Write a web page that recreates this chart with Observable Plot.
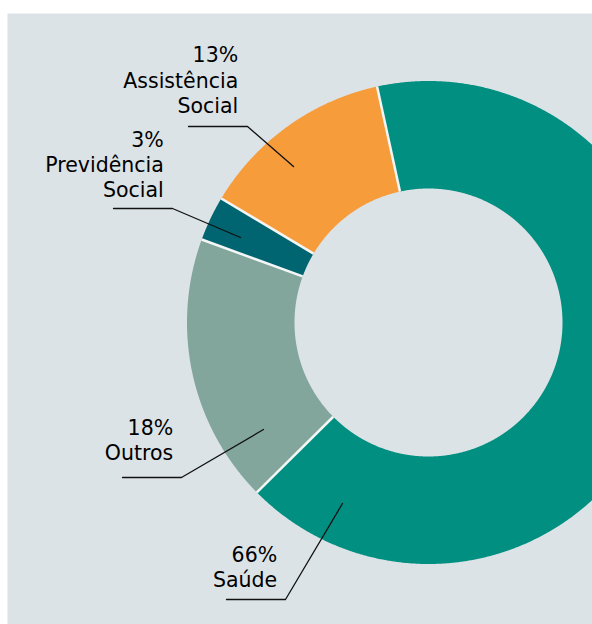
<!DOCTYPE html>
<html><head><meta charset="utf-8">
<script src="https://cdn.jsdelivr.net/npm/d3@7"></script>
<script src="https://cdn.jsdelivr.net/npm/@observablehq/plot@0.6"></script>
<style>html,body{margin:0;padding:0;background:#fff;overflow:hidden;} svg{display:block}</style>
</head><body><div id="chart"></div>
<script>
// ---- data ----
const categories = ["Saúde", "Outros", "Previdência Social", "Assistência Social"];
const shares = [66, 18, 3, 13];
const labelTexts = ["66%\nSaúde", "18%\nOutros", "3%\nPrevidência\nSocial", "13%\nAssistência\nSocial"];

// ---- styles / layout ----
const colors = ["#008f80", "#82a59c", "#006570", "#f79c3b"];
const startDeg = -12.3;
const outerR = 241.5, innerR = 134;
// annotation layout, in pixels relative to the donut centre (y grows downward)
const leaderTips   = [[-86, 181], [-165, 107], [-188, -85], [-135, -156]];
const leaderElbows = [[-143, 277], [-247, 155], [-256, -114], [-181, -196]];
const leaderTail = 59;
const labelAnchors = [[-151.3, 264.7], [-255.3, 137.3], [-264.7, -125.3], [-190.3, -210]];

const a0 = startDeg * Math.PI / 180;
const arcs = d3.pie().sort(null).startAngle(a0).endAngle(a0 + 2 * Math.PI)(shares);

const px = (r, a) => r * Math.sin(a);
const py = (r, a) => -r * Math.cos(a);

const sliceMarks = arcs.map((d, i) => {
  const n = Math.max(8, Math.ceil((d.endAngle - d.startAngle) / 0.005));
  const pts = [];
  for (let k = 0; k <= n; k++) {
    const a = d.startAngle + (d.endAngle - d.startAngle) * k / n;
    pts.push({x: px(outerR, a), y: py(outerR, a)});
  }
  for (let k = n; k >= 0; k--) {
    const a = d.startAngle + (d.endAngle - d.startAngle) * k / n;
    pts.push({x: px(innerR, a), y: py(innerR, a)});
  }
  return Plot.line(pts, {x: "x", y: "y", fill: colors[i], stroke: "none", curve: "linear-closed", clip: true});
});

const boundaries = arcs.map(d => d.startAngle);

const leaders = [];
categories.forEach((c, i) => {
  leaders.push({k: c, x: leaderTips[i][0], y: leaderTips[i][1]});
  leaders.push({k: c, x: leaderElbows[i][0], y: leaderElbows[i][1]});
  leaders.push({k: c, x: leaderElbows[i][0] - leaderTail, y: leaderElbows[i][1]});
});

const labels = categories.map((c, i) => ({k: c, text: labelTexts[i], x: labelAnchors[i][0], y: labelAnchors[i][1]}));

const chart = Plot.plot({
  width: 592,
  height: 624,
  margin: 0,
  x: {domain: [-428, 164], range: [0, 592], axis: null},
  y: {domain: [-322, 302], range: [0, 624], axis: null},
  style: {background: "#fff", fontFamily: "'DejaVu Sans', Verdana, sans-serif"},
  marks: [
    Plot.frame({fill: "#dce3e6", stroke: "none", insetLeft: 7, insetTop: 13}),
    ...sliceMarks,
    Plot.link(boundaries, {
      x1: a => px(innerR, a), y1: a => py(innerR, a),
      x2: a => px(outerR, a), y2: a => py(outerR, a),
      stroke: "#f4f6f6", strokeWidth: 2.5, clip: true
    }),
    Plot.line(leaders, {x: "x", y: "y", z: "k", stroke: "#111", strokeWidth: 1.3}),
    Plot.text(labels, {
      x: "x", y: "y", text: "text", textAnchor: "end", lineAnchor: "bottom",
      fontSize: 20.5, lineHeight: 1.22, fill: "#000"
    })
  ]
});
document.getElementById("chart").appendChild(chart);
</script>
</body></html>
